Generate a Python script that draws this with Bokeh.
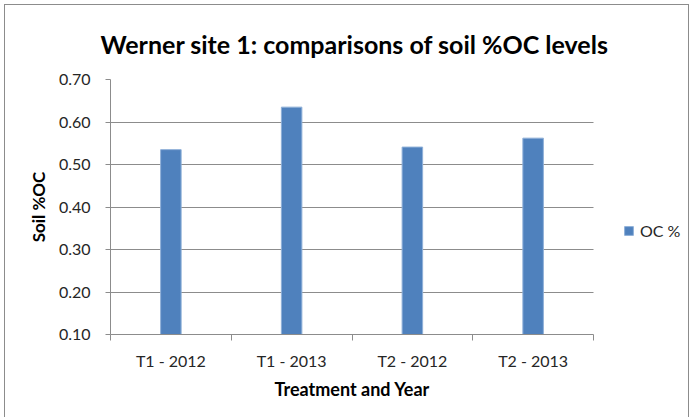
from bokeh.plotting import figure
from bokeh.models import (Range1d, FixedTicker, Legend, LegendItem, ColumnDataSource, Title)
from bokeh.embed import file_html
from bokeh.resources import INLINE

categories = ["T1 - 2012", "T1 - 2013", "T2 - 2012", "T2 - 2013"]
oc_values = [0.535, 0.635, 0.541, 0.562]
y_ticks = [0.10, 0.20, 0.30, 0.40, 0.50, 0.60, 0.70]
series_name = "OC %"
chart_title = "Werner site 1: comparisons of soil %OC levels"
x_title = "Treatment and Year"
y_title = "Soil %OC"

FONT = "Lato"
GRID = "#8c8c8c"
TXT = "#262626"

n = len(categories)
x_pos = [i + 0.5 for i in range(n)]
y_min, y_max = y_ticks[0], y_ticks[-1]
src = ColumnDataSource(dict(x=x_pos, top=oc_values, cat=categories))

# plot area for the categories is 483 px wide; the frame continues
# to the right (578 px) to hold the legend, like the chart's right column
FRAME_W, CAT_W = 578, 483
x_end = n * FRAME_W / CAT_W

p = figure(width=683, height=413, output_backend="svg", toolbar_location=None,
           x_range=Range1d(0, x_end), y_range=Range1d(y_min, y_max),
           min_border_left=105, min_border_right=0, min_border_top=73,
           min_border_bottom=84)
p.outline_line_color = None
p.background_fill_color = "white"
p.border_fill_color = "white"
p.styles = {"margin": "5px 0 0 5px",
            "box-shadow": "-1px -1px 0 0 #8c8c8c, 1px -1px 0 0 #8c8c8c"}

p.title.text = chart_title
p.title.text_font = FONT
p.title.text_font_size = "25px"
p.title.text_font_style = "bold"
p.title.text_color = "black"
p.title.align = "left"
p.title.offset = -10
p.title.standoff = 42

r = p.vbar(x="x", top="top", bottom=y_min, width=0.17, source=src,
           fill_color="#4F81BD", line_color="#8fb0d8", line_width=1)

# x axis: labels at centres, tick marks at category boundaries
xax = p.xaxis[0]
xax.bounds = (0, n)
xax.ticker = FixedTicker(ticks=x_pos, minor_ticks=list(range(n + 1)))
xax.major_label_overrides = {x: c for x, c in zip(x_pos, categories)}
xax.major_tick_out = 0
xax.major_tick_in = 0
xax.minor_tick_out = 6
xax.minor_tick_in = 0
xax.minor_tick_line_color = GRID
xax.axis_line_color = GRID
xax.major_label_text_font = FONT
xax.major_label_text_font_size = "16px"
xax.major_label_text_color = TXT
xax.major_label_standoff = 10

# x axis title, centred under the category area (not under the legend column)
xt = Title(text=x_title, align="left", offset=164, standoff=6,
           text_font=FONT, text_font_size="18px", text_font_style="bold",
           text_color="black")
p.add_layout(xt, "below")

yax = p.yaxis[0]
yax.ticker = FixedTicker(ticks=y_ticks)
yax.major_label_overrides = {t: f"{t:.2f}" for t in y_ticks}
yax.major_tick_out = 5
yax.major_tick_in = 0
yax.minor_tick_out = 0
yax.minor_tick_in = 0
yax.major_tick_line_color = GRID
yax.axis_line_color = GRID
yax.major_label_text_font = FONT
yax.major_label_text_font_size = "16px"
yax.major_label_text_color = TXT
yax.major_label_standoff = 15
yax.axis_label = y_title
yax.axis_label_text_font = FONT
yax.axis_label_text_font_size = "17px"
yax.axis_label_text_font_style = "bold"
yax.axis_label_text_color = "black"
yax.axis_label_standoff = 7

p.xgrid.grid_line_color = None
p.ygrid.grid_line_color = GRID
p.ygrid.grid_line_width = 1
p.ygrid.cross_bounds = (0, n)

legend = Legend(items=[LegendItem(label=series_name, renderers=[r])],
                location=(513, 94), padding=0, margin=0, spacing=0,
                glyph_width=11, glyph_height=11, label_standoff=6,
                label_text_font=FONT, label_text_font_size="16px",
                label_text_color=TXT, border_line_color=None,
                background_fill_alpha=0)
p.add_layout(legend)

open("out.html", "w").write(file_html(p, INLINE))
